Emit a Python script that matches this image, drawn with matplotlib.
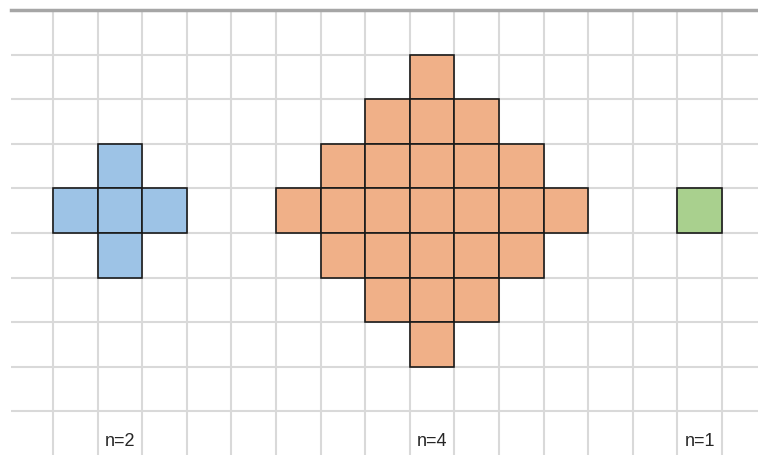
import matplotlib
matplotlib.use("Agg")
import matplotlib.pyplot as plt
from matplotlib.patches import Rectangle

# Cell positions (column, row) of each shape on the grid
blue_cells = [(2, 3), (1, 4), (2, 4), (3, 4), (2, 5)]
orange_cells = [
    (9, 1),
    (8, 2), (9, 2), (10, 2),
    (7, 3), (8, 3), (9, 3), (10, 3), (11, 3),
    (6, 4), (7, 4), (8, 4), (9, 4), (10, 4), (11, 4), (12, 4),
    (7, 5), (8, 5), (9, 5), (10, 5), (11, 5),
    (8, 6), (9, 6), (10, 6),
    (9, 7),
]
green_cells = [(15, 4)]

labels = ["n=2", "n=4", "n=1"]
label_cols = [2, 9, 15]
label_row = 9

shapes = [(blue_cells, "#9DC3E6"), (orange_cells, "#F0B088"), (green_cells, "#A9D08E")]

W, H = 758, 455
fig = plt.figure(figsize=(W / 100, H / 100), dpi=100)
cell_px = 44.6
x0_px, y0_px = 8.4, 10.0
left_px = 11.0
ax_left = left_px / W
ax_bottom = 0.0
ax_w = (W - left_px) / W
ax_h = (H - y0_px) / H
ax = fig.add_axes([ax_left, ax_bottom, ax_w, ax_h])
xmin = (left_px - x0_px) / cell_px
xmax = (W - x0_px) / cell_px
ymax = (H - y0_px) / cell_px
ax.set_xlim(xmin, xmax)
ax.set_ylim(ymax, 0)
ax.axis("off")

# grid
for c in range(1, 17):
    ax.axvline(c, color="#D9D9D9", lw=1.5, zorder=0)
for r in range(1, 10):
    ax.axhline(r, color="#D9D9D9", lw=1.5, zorder=0)
ax.axhline(0, color="#A6A6A6", lw=2.5, zorder=1, clip_on=False)

for cells, color in shapes:
    for (c, r) in cells:
        ax.add_patch(Rectangle((c, r), 1, 1, facecolor=color, edgecolor="#1A1A1A",
                               lw=1.2, zorder=2))

for lab, c in zip(labels, label_cols):
    ax.text(c + 0.5, label_row + 0.68, lab, ha="center", va="center",
            fontsize=13, family="Liberation Sans", color="#262626")

fig.savefig("out.png", dpi=100)
